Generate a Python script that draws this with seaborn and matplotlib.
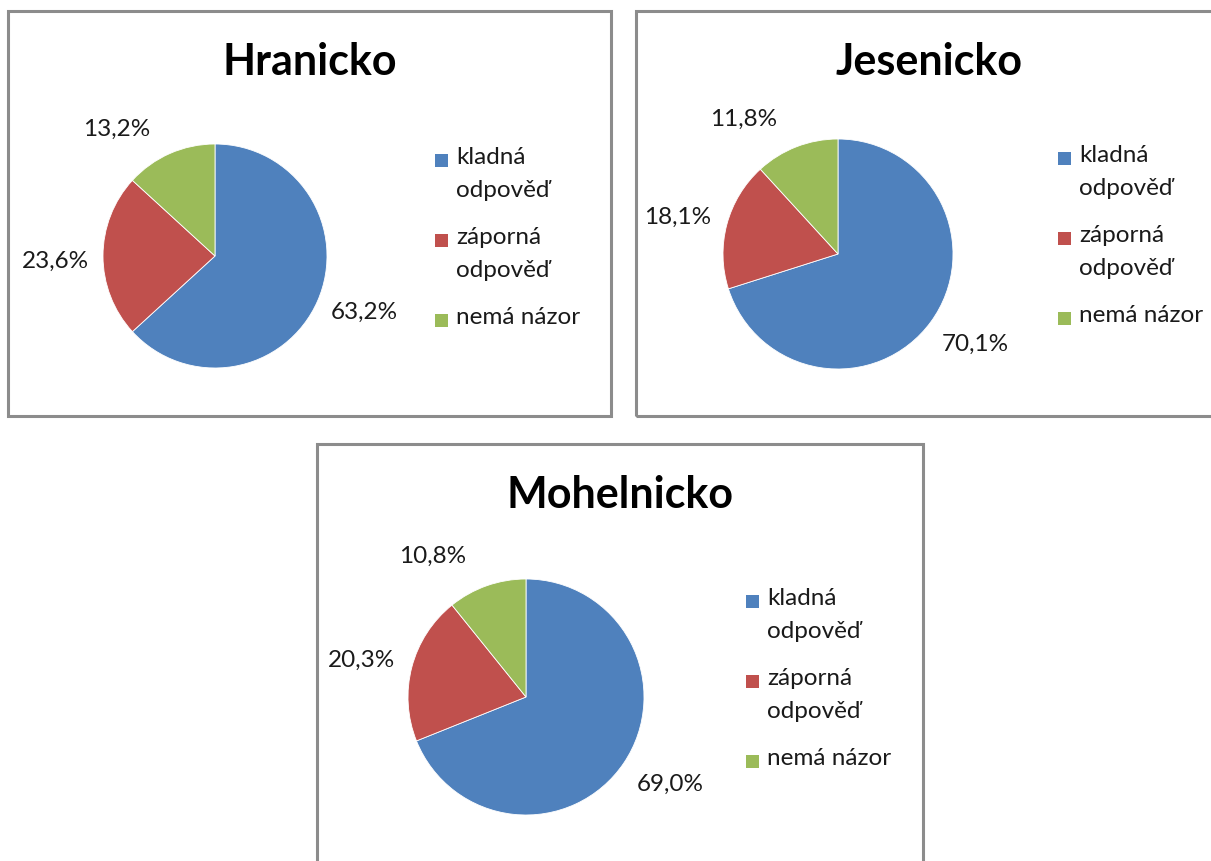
import numpy as np
import matplotlib
matplotlib.use("Agg")
import matplotlib.pyplot as plt
import matplotlib.patches as mpatches
import seaborn as sns

# data
regions = ["Hranicko", "Jesenicko", "Mohelnicko"]
categories = ["kladná\nodpověď", "záporná\nodpověď", "nemá názor"]
hranicko = [63.2, 23.6, 13.2]
jesenicko = [70.1, 18.1, 11.8]
mohelnicko = [69.0, 20.3, 10.8]
values = [hranicko, jesenicko, mohelnicko]

sns.set_theme(style="white")
plt.rcParams['font.family'] = ['Lato', 'DejaVu Sans']
colors = ["#4F81BD", "#C0504D", "#9BBB59"]

W, H = 1211, 861
fig = plt.figure(figsize=(W / 100, H / 100), dpi=100)
fig.patch.set_facecolor("white")


def fx(x):
    return x / W


def fy(y):
    return 1 - y / H


# layout in pixels: panel box, pie centre, radius
panels = [
    dict(box=(8, 11, 611, 416), c=(215, 256), r=112),
    dict(box=(636, 11, 1225, 416), c=(838, 254), r=115),
    dict(box=(317, 444, 923, 880), c=(526, 697), r=118),
]
# small slices get their label nudged like Excel does
nudge = [3, 2, 14]
k = 1.7

for name, vals, p in zip(regions, values, panels):
    x0, y0, x1, y1 = p["box"]
    fig.patches.append(mpatches.Rectangle((fx(x0), fy(y1)), fx(x1 - x0), (y1 - y0) / H,
                                          transform=fig.transFigure, fill=False,
                                          edgecolor="#8c8c8c", linewidth=2.2, zorder=0))
    tx = (x0 + x1) / 2 if x1 <= W else (x0 + W) / 2 + 6
    fig.text(fx(tx), fy(y0 + 51), name,
             ha="center", va="center", fontsize=31, fontweight="bold", color="black")

    cx, cy = p["c"]
    r = p["r"]
    ax = fig.add_axes([fx(cx - k * r), fy(cy + k * r), fx(2 * k * r), 2 * k * r / H])
    wedges, _ = ax.pie(vals, colors=colors, startangle=90, counterclock=False,
                       wedgeprops=dict(edgecolor="white", linewidth=0.6))
    ax.set_xlim(-k, k)
    ax.set_ylim(-k, k)
    ax.set_aspect("equal")
    ax.axis("off")

    for w, v, n in zip(wedges, vals, nudge):
        ang = np.deg2rad((w.theta1 + w.theta2) / 2 + n)
        ax.text(1.43 * np.cos(ang), 1.43 * np.sin(ang), f"{v:.1f}%".replace(".", ","),
                ha="center", va="center", fontsize=17.5, color="#1a1a1a")

    # legend
    lx = cx + 226
    for i, (lab, col) in enumerate(zip(categories, colors)):
        ly = cy - 96 + 80 * i
        fig.patches.append(mpatches.Rectangle((fx(lx - 6.5), fy(ly + 6.5)), fx(13), 13 / H,
                                              transform=fig.transFigure, facecolor=col,
                                              edgecolor="none"))
        fig.text(fx(lx + 15), fy(ly - 13), lab, ha="left", va="top", fontsize=17.5,
                 color="#1a1a1a", linespacing=1.7)

fig.savefig("out.png", dpi=100, facecolor="white")
